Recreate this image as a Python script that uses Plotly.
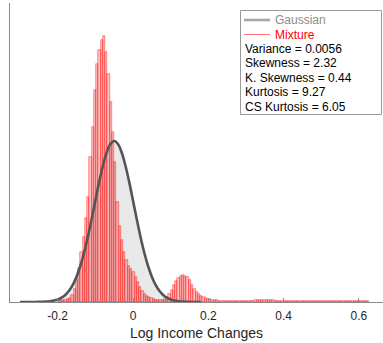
import plotly.graph_objects as go

# ---------------- data ----------------
bin_width = 0.006
first_bin_center = -0.197
mixture_density = [
    0.04, 0.06, 0.08, 0.09, 0.11, 0.15, 0.26, 0.49, 0.83, 1.28,
    1.88, 2.44, 3.16, 3.95, 5.45, 6.58, 7.97, 8.95, 9.47, 9.85,
    10.0, 9.40, 8.57, 7.52, 6.39, 5.26, 3.76, 2.86, 2.33, 1.88,
    1.58, 1.35, 1.24, 1.13, 0.94, 0.75, 0.56, 0.41, 0.30, 0.23,
    0.19, 0.15, 0.11, 0.09, 0.08, 0.08, 0.09, 0.13, 0.19, 0.30,
    0.45, 0.64, 0.79, 0.90, 0.98, 1.02, 0.98, 0.94, 0.83, 0.64,
    0.49, 0.39, 0.30, 0.23, 0.19, 0.15, 0.13, 0.11, 0.09, 0.08,
    0.06,
    0.05, 0.045, 0.04, 0.04, 0.04, 0.035, 0.035, 0.035, 0.035, 0.035, 0.035, 0.035, 0.035,
    0.04, 0.045, 0.05, 0.06, 0.07,
    0.08, 0.08, 0.085, 0.08, 0.075, 0.07, 0.06, 0.05,
    0.045, 0.04, 0.04, 0.035, 0.035, 0.03, 0.03, 0.035, 0.03, 0.03,
    0.03, 0.03, 0.035, 0.03, 0.03, 0.03, 0.03, 0.03, 0.035, 0.03,
    0.03, 0.03, 0.03, 0.03, 0.03, 0.035, 0.03, 0.03, 0.03, 0.03,
    0.03, 0.03, 0.03, 0.03, 0.03, 0.03, 0.03, 0.03, 0.03, 0.03,
    0.03,
]
bin_centers = [round(first_bin_center + i * bin_width, 4) for i in range(len(mixture_density))]

gauss_x = [round(-0.30 + 0.01 * i, 2) for i in range(49)]
gauss_y = [
    0.0001, 0.0001, 0.0003, 0.0008, 0.0017, 0.0037, 0.0076, 0.0151, 0.0289, 0.0532,
    0.0945, 0.1614, 0.2658, 0.4217, 0.6457, 0.9524, 1.353, 1.853, 2.446, 3.113,
    3.815, 4.506, 5.123, 5.619, 5.939, 6.05, 5.939, 5.619, 5.123, 4.506,
    3.815, 3.113, 2.446, 1.853, 1.353, 0.9524, 0.6457, 0.4217, 0.2658, 0.1614,
    0.0945, 0.0532, 0.0289, 0.0151, 0.0076, 0.0037, 0.0017, 0.0008, 0.0003,
]

tick_vals = [-0.2, 0, 0.2, 0.4, 0.6]
tick_text = ["-0.2", "0", "0.2", "0.4", "0.6"]
x_title = "Log Income Changes"
legend_names = ["Gaussian", "Mixture"]
stats_lines = ["Variance = 0.0056", "Skewness = 2.32", "K. Skewness = 0.44",
               "Kurtosis = 9.27", "CS Kurtosis = 6.05"]

# ---------------- layout geometry ----------------
W, H = 383, 343
L, R, T, B = 10, 0, 3, 41
FONT = "Liberation Sans, Arial, Helvetica, sans-serif"


def px_x(px):
    return (px - L) / (W - L - R)


def px_y(py):
    return (H - B - py) / (H - B - T)


fig = go.Figure()

fig.add_trace(go.Bar(
    x=bin_centers, y=mixture_density, width=bin_width,
    marker=dict(color="rgba(255,0,0,0.24)",
                line=dict(color="rgba(255,0,0,0.75)", width=0.55)),
    showlegend=False, hoverinfo="skip",
))

fig.add_trace(go.Scatter(
    x=gauss_x, y=gauss_y, mode="lines", line=dict(color="#555555", width=2.6, shape="spline"),
    showlegend=False, hoverinfo="skip",
))

# Gaussian fill under everything
path = "M {},0 ".format(gauss_x[0]) + " ".join(
    "L {},{}".format(x, y) for x, y in zip(gauss_x, gauss_y)) + " L {},0 Z".format(gauss_x[-1])
shapes = [dict(type="path", path=path, xref="x", yref="y", layer="below",
               fillcolor="#e9e9e9", line=dict(width=0))]

# legend box
shapes.append(dict(type="rect", xref="paper", yref="paper",
                   x0=px_x(240.5), x1=px_x(381.5), y0=px_y(114.5), y1=px_y(10.5),
                   line=dict(color="#9a9a9a", width=1), fillcolor="white", layer="above"))
shapes.append(dict(type="line", xref="paper", yref="paper",
                   x0=px_x(244), x1=px_x(270), y0=px_y(20), y1=px_y(20),
                   line=dict(color="#a8a8a8", width=2.6)))
shapes.append(dict(type="line", xref="paper", yref="paper",
                   x0=px_x(244), x1=px_x(270), y0=px_y(34.5), y1=px_y(34.5),
                   line=dict(color="#ff5050", width=0.8)))

annotations = []
annotations.append(dict(text=legend_names[0], x=px_x(272.5), y=px_y(20), xref="paper", yref="paper",
                        xanchor="left", yanchor="middle", showarrow=False,
                        font=dict(family=FONT, size=12, color="#8c8c8c")))
annotations.append(dict(text=legend_names[1], x=px_x(272.5), y=px_y(34.5), xref="paper", yref="paper",
                        xanchor="left", yanchor="middle", showarrow=False,
                        font=dict(family=FONT, size=12, color="#ff0000")))
for i, s in enumerate(stats_lines):
    annotations.append(dict(text=s, x=px_x(243), y=px_y(49 + 14.45 * i), xref="paper", yref="paper",
                            xanchor="left", yanchor="middle", showarrow=False,
                            font=dict(family=FONT, size=12, color="#000000")))

fig.update_layout(
    width=W, height=H,
    margin=dict(l=L, r=R, t=T, b=B, pad=0),
    paper_bgcolor="white", plot_bgcolor="white",
    bargap=0, showlegend=False,
    shapes=shapes, annotations=annotations,
    font=dict(family=FONT),
    xaxis=dict(range=[-0.3267, 0.664], tickvals=tick_vals, ticktext=tick_text,
               showline=True, linecolor="#8a8a8a", linewidth=1,
               ticks="inside", ticklen=4, tickcolor="#8a8a8a",
               ticklabelstandoff=3,
               showgrid=False, zeroline=False,
               tickfont=dict(family=FONT, size=12, color="#262626"),
               title=dict(text=x_title, font=dict(family=FONT, size=14, color="#262626"), standoff=5)),
    yaxis=dict(range=[0, 11.24], showline=True, linecolor="#8a8a8a", linewidth=1,
               showticklabels=False, ticks="", showgrid=False, zeroline=False),
)

fig.write_html("out.html")
